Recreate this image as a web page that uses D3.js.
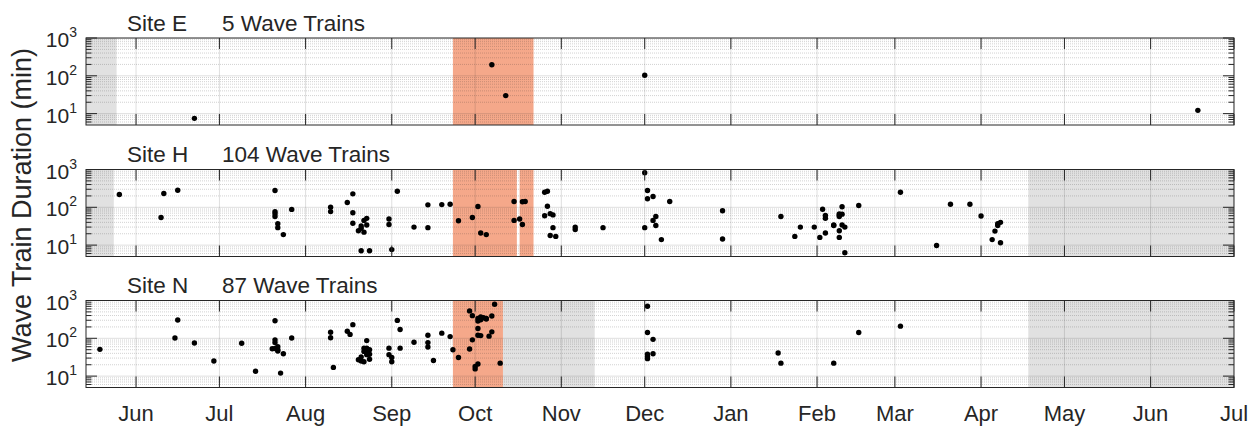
<!DOCTYPE html>
<html>
<head>
<meta charset="utf-8">
<script src="https://d3js.org/d3.v7.min.js"></script>
<style>
body { margin: 0; background: #fff; }
text { font-family: "Liberation Sans", Arial, sans-serif; fill: #262626; }
</style>
</head>
<body>
<svg width="1254" height="432"></svg>
<script>
'use strict';

// wave train records per site (start date, duration in minutes)
var siteNames = ["Site E", "Site H", "Site N"];

var siteE_dates = ["2018-06-22","2018-10-07","2018-10-12","2018-12-01","2019-06-18"];
var siteE_minutes = [7.5, 197, 30, 103, 12.2];

var siteH_dates = [
	"2018-05-26","2018-06-10","2018-06-11","2018-06-16","2018-07-21","2018-07-21","2018-07-21","2018-07-21",
	"2018-07-22","2018-07-22","2018-07-24","2018-07-27","2018-08-10","2018-08-10","2018-08-16","2018-08-18",
	"2018-08-18","2018-08-18","2018-08-23","2018-08-22","2018-08-23","2018-08-21","2018-08-21","2018-08-20",
	"2018-08-22","2018-08-21","2018-08-24","2018-08-31","2018-08-31","2018-09-01","2018-09-03","2018-09-09",
	"2018-09-14","2018-09-14","2018-09-19","2018-09-22","2018-09-25","2018-09-30","2018-10-02","2018-10-03",
	"2018-10-05","2018-10-15","2018-10-15","2018-10-17","2018-10-18","2018-10-18","2018-10-19","2018-10-26",
	"2018-10-27","2018-10-27","2018-10-26","2018-10-28","2018-10-29","2018-10-29","2018-10-28","2018-10-30",
	"2018-11-06","2018-11-06","2018-11-16","2018-12-01","2018-12-02","2018-12-02","2018-12-04","2018-12-10",
	"2018-12-01","2018-12-05","2018-12-04","2018-12-05","2018-12-07","2018-12-29","2018-12-29","2019-01-19",
	"2019-01-24","2019-01-26","2019-01-31","2019-02-02","2019-02-03","2019-02-04","2019-02-04","2019-02-04",
	"2019-02-07","2019-02-07","2019-02-09","2019-02-09","2019-02-10","2019-02-09","2019-02-10","2019-02-09",
	"2019-02-09","2019-02-10","2019-02-11","2019-02-11","2019-02-16","2019-03-03","2019-03-16","2019-03-21",
	"2019-03-28","2019-04-01","2019-04-07","2019-04-08","2019-04-07","2019-04-06","2019-04-05","2019-04-08"];
var siteH_minutes = [
	218, 54, 232, 283, 278, 77, 68, 57,
	37, 29, 19, 88, 100, 77, 134, 227,
	72, 38, 51, 45, 34, 32, 28, 24,
	22, 7.1, 7.1, 49, 35, 7.6, 267, 30,
	29, 116, 118, 120, 44, 54, 105, 21,
	19, 45, 142, 49, 35, 140, 142, 250,
	267, 107, 60, 68, 63, 29, 18, 17,
	30, 26, 29, 818, 278, 168, 193, 142,
	29, 57, 45, 33, 14, 81, 14.5, 57,
	17, 30, 30, 16, 89, 61, 51, 21,
	33, 34, 67, 63, 66, 57, 103, 24,
	16, 34, 30, 6.3, 112, 250, 9.8, 121,
	121, 59, 37, 40, 33, 23.5, 14, 11.5];

var siteN_dates = [
	"2018-05-19","2018-06-15","2018-06-16","2018-06-22","2018-06-29","2018-07-09","2018-07-14","2018-07-21",
	"2018-07-21","2018-07-21","2018-07-21","2018-07-20","2018-07-22","2018-07-22","2018-07-24","2018-07-23",
	"2018-07-27","2018-08-10","2018-08-10","2018-08-11","2018-08-16","2018-08-17","2018-08-18","2018-08-23",
	"2018-08-22","2018-08-23","2018-08-24","2018-08-23","2018-08-23","2018-08-24","2018-08-21","2018-08-20",
	"2018-08-21","2018-08-22","2018-08-24","2018-08-31","2018-08-31","2018-09-01","2018-09-01","2018-09-03",
	"2018-09-04","2018-09-04","2018-09-09","2018-09-14","2018-09-14","2018-09-14","2018-09-16","2018-09-19",
	"2018-09-22","2018-09-23","2018-09-25","2018-09-29","2018-09-30","2018-10-08","2018-10-02","2018-10-03",
	"2018-10-04","2018-10-05","2018-10-05","2018-10-02","2018-10-03","2018-10-07","2018-10-02","2018-10-02",
	"2018-10-03","2018-10-06","2018-10-07","2018-09-30","2018-09-29","2018-10-02","2018-10-01","2018-10-01",
	"2018-10-10","2018-12-02","2018-12-02","2018-12-04","2018-12-02","2018-12-02","2018-12-04","2018-12-02",
	"2019-01-18","2019-01-19","2019-02-07","2019-02-16","2019-03-03","2018-07-22","2018-08-22"];
var siteN_minutes = [
	51, 102, 305, 75, 25, 74, 13.5, 292,
	91, 77, 54, 53, 60, 50, 39, 12,
	102, 145, 103, 17, 154, 127, 230, 87,
	55, 55, 50, 42, 37, 38, 32, 27,
	25, 24, 28, 55, 37, 31, 24, 298,
	171, 55, 79, 121, 77, 59, 26, 137,
	111, 50, 31, 530, 397, 796, 336, 366,
	350, 336, 324, 286, 310, 390, 182, 121,
	118, 114, 148, 91, 52, 21, 18, 15.5,
	22, 704, 142, 94, 29, 38, 39, 33,
	41, 22, 22, 142, 210, 46, 45];

// shaded periods [start, end]
var siteE_gray = [["2018-05-14","2018-05-25"]];
var siteE_orange = [["2018-09-23","2018-10-22"]];
var siteH_gray = [["2018-05-14","2018-05-24"], ["2019-04-18","2019-07-01"]];
var siteH_orange = [["2018-09-23","2018-10-16"], ["2018-10-17","2018-10-22"]];
var siteN_gray = [["2018-10-11","2018-11-13"], ["2019-04-18","2019-07-01"]];
var siteN_orange = [["2018-09-23","2018-10-11"]];

var monthTicks = ["2018-06-01","2018-07-01","2018-08-01","2018-09-01","2018-10-01","2018-11-01","2018-12-01",
	"2019-01-01","2019-02-01","2019-03-01","2019-04-01","2019-05-01","2019-06-01","2019-07-01"];
var monthLabels = ["Jun","Jul","Aug","Sep","Oct","Nov","Dec","Jan","Feb","Mar","Apr","May","Jun","Jul"];
var yDecades = [10, 100, 1000];
var yExponents = ["1", "2", "3"];

var parse = d3.timeParse("%Y-%m-%d");

var panels = [
	{name: siteNames[0], dates: siteE_dates, minutes: siteE_minutes, gray: siteE_gray, orange: siteE_orange},
	{name: siteNames[1], dates: siteH_dates, minutes: siteH_minutes, gray: siteH_gray, orange: siteH_orange},
	{name: siteNames[2], dates: siteN_dates, minutes: siteN_minutes, gray: siteN_gray, orange: siteN_orange}
];

var svg = d3.select("svg");
var left = 86, width = 1148, height = 87;
var tops = [38, 169.5, 300.5];
var ink = "#262626";

var x = d3.scaleTime()
	.domain([parse("2018-05-14"), parse("2019-07-01")])
	.range([0, width]);
var y = d3.scaleLog().domain([5, 1000]).range([height, 0]);

var minorVals = [];
[1, 10, 100].forEach(function(d){
	for(var m = 2; m <= 9; m++){
		if(m*d > 5 && m*d < 1000) minorVals.push(m*d);
	}
});
var tickDates = monthTicks.map(parse);

svg.append("defs").append("clipPath").attr("id", "plotclip")
	.append("rect").attr("width", width).attr("height", height);

panels.forEach(function(p, pi){
	var g = svg.append("g").attr("transform", "translate(" + left + "," + tops[pi] + ")");
	var body = g.append("g").attr("clip-path", "url(#plotclip)");

	function shade(periods, color){
		body.selectAll(null).data(periods).enter().append("rect")
			.attr("x", function(d){ return x(parse(d[0])); })
			.attr("width", function(d){ return x(parse(d[1])) - x(parse(d[0])); })
			.attr("y", 0).attr("height", height)
			.attr("fill", color);
	}
	shade(p.gray, "#e1e1e1");
	shade(p.orange, "#f5a88a");

	// grid: minor dotted, major solid
	body.selectAll(null).data(minorVals).enter().append("line")
		.attr("x1", 0).attr("x2", width)
		.attr("y1", function(d){ return y(d); }).attr("y2", function(d){ return y(d); })
		.attr("stroke", "rgba(38,38,38,0.3)").attr("stroke-width", 0.7)
		.attr("stroke-dasharray", "1,1");
	body.selectAll(null).data(yDecades).enter().append("line")
		.attr("x1", 0).attr("x2", width)
		.attr("y1", function(d){ return y(d); }).attr("y2", function(d){ return y(d); })
		.attr("stroke", "rgba(38,38,38,0.15)");
	body.selectAll(null).data(tickDates).enter().append("line")
		.attr("y1", 0).attr("y2", height)
		.attr("x1", function(d){ return x(d); }).attr("x2", function(d){ return x(d); })
		.attr("stroke", "rgba(38,38,38,0.15)");

	// wave trains
	body.selectAll(".dot").data(p.dates).enter().append("circle")
		.attr("class", "dot")
		.attr("cx", function(d){ return x(parse(d)); })
		.attr("cy", function(d, i){ return y(p.minutes[i]); })
		.attr("r", 2.7)
		.attr("fill", "#000");

	// ticks, pointing inward on all four sides
	var tk = g.append("g").attr("stroke", ink).attr("stroke-width", 1);
	tickDates.forEach(function(d){
		tk.append("line").attr("x1", x(d)).attr("x2", x(d)).attr("y1", 0).attr("y2", 11);
		tk.append("line").attr("x1", x(d)).attr("x2", x(d)).attr("y1", height).attr("y2", height - 11);
	});
	yDecades.concat(minorVals).forEach(function(v){
		var len = yDecades.indexOf(v) >= 0 ? 11 : 5.5;
		tk.append("line").attr("x1", 0).attr("x2", len).attr("y1", y(v)).attr("y2", y(v));
		tk.append("line").attr("x1", width).attr("x2", width - len).attr("y1", y(v)).attr("y2", y(v));
	});

	g.append("rect")
		.attr("width", width).attr("height", height)
		.attr("fill", "none").attr("stroke", ink).attr("stroke-width", 1);

	// y tick labels 10^n
	yDecades.forEach(function(v, i){
		var t = g.append("text")
			.attr("x", -9).attr("y", y(v) + 9)
			.attr("text-anchor", "end")
			.style("font-size", "21px");
		t.append("tspan").text("10");
		t.append("tspan").attr("dy", -10).style("font-size", "14px").text(yExponents[i]);
	});

	// panel title
	g.append("text").attr("x", 127 - left).attr("y", -7.5)
		.style("font-size", "22.5px").text(p.name);
	g.append("text").attr("x", 222 - left).attr("y", -7.5)
		.style("font-size", "22.5px").text(p.dates.length + " Wave Trains");

	if(pi == panels.length - 1){
		g.selectAll(".mlabel").data(tickDates).enter().append("text")
			.attr("class", "mlabel")
			.attr("x", function(d){ return x(d); })
			.attr("y", height + 33.5)
			.attr("text-anchor", "middle")
			.style("font-size", "22px")
			.text(function(d, i){ return monthLabels[i]; });
	}
});

svg.append("text")
	.attr("transform", "translate(31,205) rotate(-90)")
	.attr("text-anchor", "middle")
	.style("font-size", "27px")
	.text("Wave Train Duration (min)");
</script>
</body>
</html>
